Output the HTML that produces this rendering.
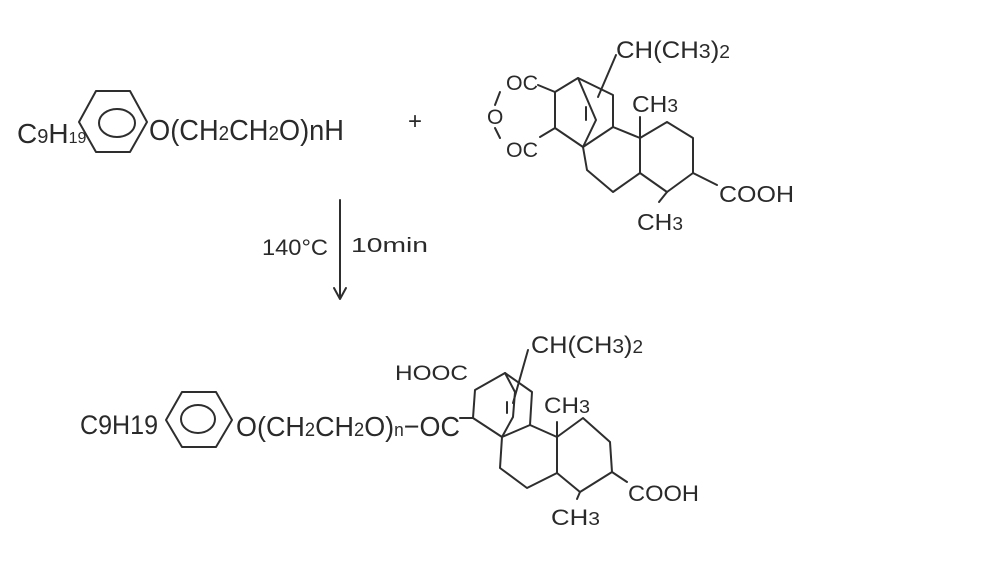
<!DOCTYPE html>
<html><head><meta charset="utf-8"><style>
html,body{margin:0;padding:0;background:#fff;}
svg{display:block;}
text{font-family:"Liberation Sans",sans-serif;fill:#2a2a2a;}
</style></head><body>
<svg width="985" height="572" viewBox="0 0 985 572" xmlns="http://www.w3.org/2000/svg">
<g stroke="#2e2e2e" stroke-width="2" fill="none" stroke-linecap="round" stroke-linejoin="round">
<!-- top phenyl -->
<polygon points="96,91 130,91 147,122 130,152 96,152 79,122"/>
<ellipse cx="117" cy="123" rx="18" ry="14"/>
<!-- bottom phenyl -->
<polygon points="182,392 216,392 232,420 216,447 182,447 166,420"/>
<ellipse cx="198" cy="419" rx="17" ry="14"/>
<!-- arrow -->
<line x1="340" y1="200" x2="340" y2="298"/>
<polyline points="334,288 340,299 346,288"/>
<!-- top structure -->
<polyline points="555,92 578,78 613,95 613,127 583,147 555,128 555,92"/>
<polyline points="578,78 596,120 583,147"/>
<line x1="586" y1="107" x2="586" y2="120"/>
<line x1="616" y1="55" x2="598" y2="97"/>
<polyline points="613,127 640,138 640,173 613,192 587,170 583,147"/>
<polyline points="640,138 667,122 693,138 693,173 667,192 640,173"/>
<line x1="640" y1="138" x2="640" y2="117"/>
<line x1="693" y1="173" x2="717" y2="185"/>
<line x1="667" y1="192" x2="659" y2="202"/>
<line x1="555" y1="92" x2="538" y2="85"/>
<line x1="555" y1="128" x2="540" y2="137"/>
<line x1="500" y1="92" x2="495" y2="105"/>
<line x1="495" y1="128" x2="500" y2="138"/>
<!-- bottom structure -->
<polyline points="473,418 475,390 505,373 532,392 530,425 502,437 473,418"/>
<polyline points="505,373 515,392 513,417 502,437"/>
<line x1="507" y1="402" x2="507" y2="413"/>
<line x1="528" y1="350" x2="513" y2="403"/>
<polyline points="530,425 557,437 557,473 527,488 500,468 502,437"/>
<polyline points="557,437 583,418 610,442 612,472 580,492 557,473"/>
<line x1="557" y1="437" x2="557" y2="422"/>
<line x1="612" y1="472" x2="627" y2="482"/>
<line x1="580" y1="492" x2="577" y2="499"/>
<line x1="460" y1="418" x2="473" y2="418"/>
</g>
<text x="17" y="143" font-size="28">C<tspan font-size="20">9</tspan>H<tspan font-size="16">19</tspan></text>
<text x="149" y="140" font-size="29" textLength="195" lengthAdjust="spacingAndGlyphs">O(CH<tspan font-size="20">2</tspan>CH<tspan font-size="20">2</tspan>O)nH</text>
<text x="408" y="129" font-size="24">+</text>
<text x="80" y="434" font-size="27" textLength="78" lengthAdjust="spacingAndGlyphs">C9H19</text>
<text x="236" y="436" font-size="28" textLength="224" lengthAdjust="spacingAndGlyphs">O(CH<tspan font-size="19">2</tspan>CH<tspan font-size="19">2</tspan>O)<tspan font-size="18">n</tspan>−OC</text>
<text x="262" y="255" font-size="22" textLength="66" lengthAdjust="spacingAndGlyphs">140°C</text>
<text x="351" y="252" font-size="20" textLength="77" lengthAdjust="spacingAndGlyphs">10min</text>
<!-- top structure labels -->
<text x="616" y="58" font-size="24" textLength="114" lengthAdjust="spacingAndGlyphs">CH(CH<tspan font-size="20">3</tspan>)<tspan font-size="18">2</tspan></text>
<text x="506" y="90" font-size="21" textLength="32" lengthAdjust="spacingAndGlyphs">OC</text>
<text x="487" y="124" font-size="21">O</text>
<text x="506" y="157" font-size="21" textLength="32" lengthAdjust="spacingAndGlyphs">OC</text>
<text x="632" y="112" font-size="23" textLength="46" lengthAdjust="spacingAndGlyphs">CH<tspan font-size="18">3</tspan></text>
<text x="719" y="202" font-size="23" textLength="75" lengthAdjust="spacingAndGlyphs">COOH</text>
<text x="637" y="230" font-size="23" textLength="46" lengthAdjust="spacingAndGlyphs">CH<tspan font-size="18">3</tspan></text>
<!-- bottom structure labels -->
<text x="531" y="353" font-size="24" textLength="112" lengthAdjust="spacingAndGlyphs">CH(CH<tspan font-size="20">3</tspan>)<tspan font-size="18">2</tspan></text>
<text x="395" y="380" font-size="21" textLength="73" lengthAdjust="spacingAndGlyphs">HOOC</text>
<text x="544" y="413" font-size="22" textLength="46" lengthAdjust="spacingAndGlyphs">CH<tspan font-size="18">3</tspan></text>
<text x="628" y="501" font-size="22" textLength="71" lengthAdjust="spacingAndGlyphs">COOH</text>
<text x="551" y="525" font-size="22" textLength="49" lengthAdjust="spacingAndGlyphs">CH<tspan font-size="18">3</tspan></text>
</svg>
</body></html>
